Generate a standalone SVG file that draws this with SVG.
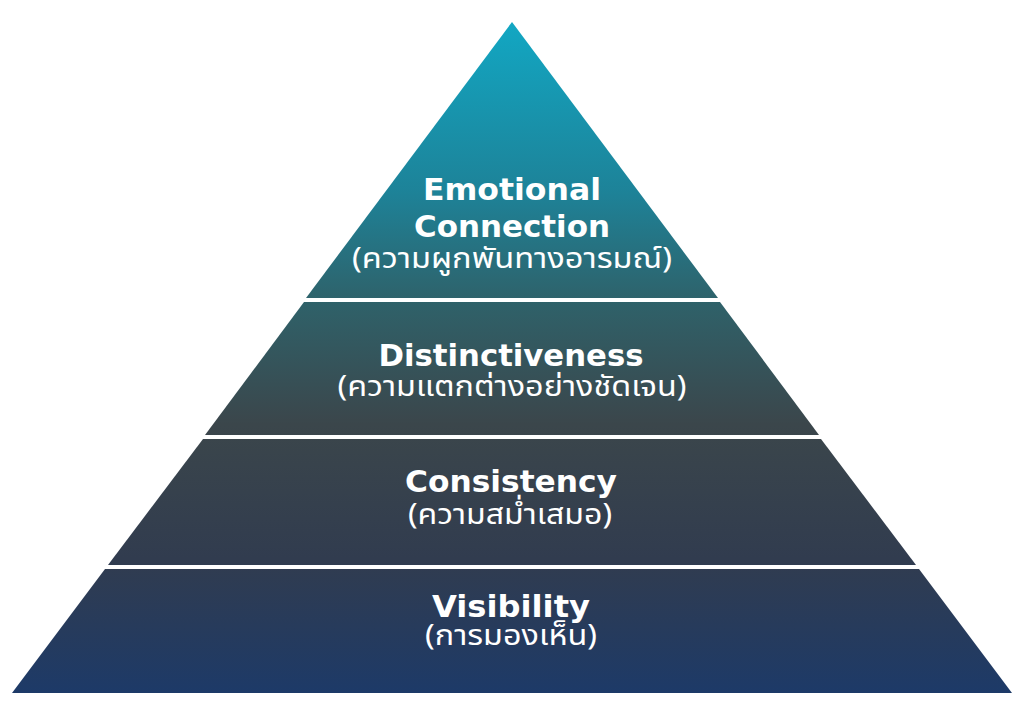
<svg xmlns="http://www.w3.org/2000/svg" width="1024" height="726" viewBox="0 0 1024 726">
<defs>
<linearGradient id="g" gradientUnits="userSpaceOnUse" x1="0" y1="22" x2="0" y2="693">
<stop offset="0" stop-color="#12a7c3"/>
<stop offset="0.25" stop-color="#1d8399"/>
<stop offset="0.42" stop-color="#2f6169"/>
<stop offset="0.6" stop-color="#3b464b"/>
<stop offset="0.8" stop-color="#313c4f"/>
<stop offset="1" stop-color="#1d3a68"/>
</linearGradient>
<style>
.band{fill:url(#g);}
.en{font-family:"DejaVu Sans","Noto Sans",sans-serif;font-weight:700;font-size:30px;fill:#fff;text-anchor:middle;}
.th{font-family:"Noto Sans Thai","Noto Sans","DejaVu Sans",sans-serif;font-size:29px;fill:#fff;text-anchor:middle;}
</style>
</defs>
<rect width="1024" height="726" fill="#fff"/>
<g id="connectors"></g>
<g id="emotional-connection">
<polygon class="band" points="512,22 718,298 306,298"/>
<text class="en" x="512" y="200" textLength="178" lengthAdjust="spacingAndGlyphs">Emotional</text>
<text class="en" x="512" y="237" textLength="196" lengthAdjust="spacingAndGlyphs">Connection</text>
<text class="th" x="512" y="268" textLength="320" lengthAdjust="spacingAndGlyphs">(ความผูกพันทางอารมณ์)</text>
</g>
<g id="distinctiveness">
<polygon class="band" points="304,302 720,302 819,435 205,435"/>
<text class="en" x="511" y="366" textLength="265" lengthAdjust="spacingAndGlyphs">Distinctiveness</text>
<text class="th" x="512" y="396" textLength="349" lengthAdjust="spacingAndGlyphs">(ความแตกต่างอย่างชัดเจน)</text>
</g>
<g id="consistency">
<polygon class="band" points="203,439 821,439 916,565 108,565"/>
<text class="en" x="511" y="492" textLength="212" lengthAdjust="spacingAndGlyphs">Consistency</text>
<text class="th" x="510" y="524" textLength="204" lengthAdjust="spacingAndGlyphs">(ความสม่ำเสมอ)</text>
</g>
<g id="visibility">
<polygon class="band" points="105,569 919,569 1012,693 12,693"/>
<text class="en" x="511" y="617" textLength="158" lengthAdjust="spacingAndGlyphs">Visibility</text>
<text class="th" x="511" y="645" textLength="172" lengthAdjust="spacingAndGlyphs">(การมองเห็น)</text>
</g>
</svg>
